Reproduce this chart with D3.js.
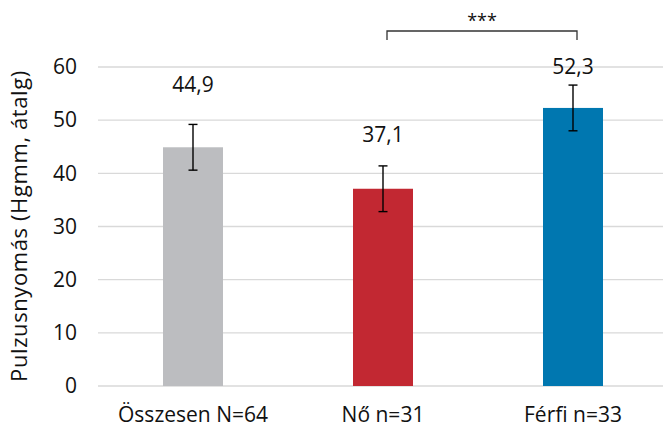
<!DOCTYPE html>
<html>
<head>
<meta charset="utf-8">
<script src="https://cdn.jsdelivr.net/npm/d3@7"></script>
<style>
  body { margin: 0; background: #fff; }
  text { font-family: "Open Sans", sans-serif; fill: #111; }
</style>
</head>
<body>
<script>
// data
var categories = ["Összesen N=64", "Nő n=31", "Férfi n=33"];
var means = [44.9, 37.1, 52.3];
var errors = [4.3, 4.3, 4.3];
var labels = ["44,9", "37,1", "52,3"];
var labelAt = [55.3, 45.9, 58.7];   // where Excel left the value labels (axis units)
var colors = ["#bcbdc0", "#c22832", "#0077b0"];
var yTicks = [0, 10, 20, 30, 40, 50, 60];
var yTitle = "Pulzusnyomás (Hgmm, átalg)";
var sigText = "***";
var sigPair = [1, 2];

var width = 663, height = 427;

var svg = d3.select("body")
  .append("svg")
    .attr("width", width)
    .attr("height", height);

// set the ranges
var x = d3.scaleBand().domain(categories).range([98, 668]).padding(0);
var y = d3.scaleLinear().domain([0, 60]).range([386, 67]);
var barW = 60;

// gridlines
svg.append("g")
  .selectAll("line")
  .data(yTicks)
  .enter().append("line")
    .attr("x1", 98).attr("x2", width)
    .attr("y1", function(d) { return y(d); })
    .attr("y2", function(d) { return y(d); })
    .style("stroke", "#d9d9d9")
    .style("stroke-width", 1.3);

// y axis labels
var yAxis = svg.append("g")
    .attr("transform", "translate(98,0)")
    .call(d3.axisLeft(y).tickValues(yTicks).tickSize(0).tickPadding(21));
yAxis.select(".domain").remove();
yAxis.selectAll("text")
    .style("font-family", "Open Sans, sans-serif")
    .style("font-size", "21px")
    .attr("fill", "#111");

// x axis labels
var xAxis = svg.append("g")
    .attr("transform", "translate(0,386)")
    .call(d3.axisBottom(x).tickSize(0).tickPadding(21));
xAxis.select(".domain").remove();
xAxis.selectAll("text")
    .style("font-family", "Open Sans, sans-serif")
    .style("font-size", "21px")
    .attr("fill", "#111");

// bars
svg.append("g")
  .selectAll("rect")
  .data(means)
  .enter().append("rect")
    .attr("x", function(d, i) { return x(categories[i]) + (x.bandwidth() - barW) / 2; })
    .attr("width", barW)
    .attr("y", function(d) { return y(d); })
    .attr("height", function(d) { return y(0) - y(d); })
    .style("fill", function(d, i) { return colors[i]; });

// error bars
var cx = function(i) { return x(categories[i]) + x.bandwidth() / 2; };
var eb = svg.append("g")
    .style("stroke", "#000")
    .style("stroke-width", 1.4)
    .style("fill", "none");
means.forEach(function(m, i) {
  var top = y(m + errors[i]), bot = y(m - errors[i]);
  eb.append("line").attr("x1", cx(i)).attr("x2", cx(i)).attr("y1", top).attr("y2", bot);
  eb.append("line").attr("x1", cx(i) - 4.5).attr("x2", cx(i) + 4.5).attr("y1", top).attr("y2", top);
  eb.append("line").attr("x1", cx(i) - 4.5).attr("x2", cx(i) + 4.5).attr("y1", bot).attr("y2", bot);
});

// value labels
svg.append("g")
  .selectAll("text")
  .data(labels)
  .enter().append("text")
    .attr("x", function(d, i) { return cx(i); })
    .attr("y", function(d, i) { return y(labelAt[i]); })
    .attr("text-anchor", "middle")
    .style("font-size", "21px")
    .text(function(d) { return d; });

// significance bracket
var bx1 = cx(sigPair[0]) + 4, bx2 = cx(sigPair[1]) + 4;
svg.append("path")
    .attr("d", "M" + bx1 + ",40V31H" + bx2 + "V40")
    .style("fill", "none")
    .style("stroke", "#333")
    .style("stroke-width", 1.3);
svg.append("text")
    .attr("x", (bx1 + bx2) / 2)
    .attr("y", 27)
    .attr("text-anchor", "middle")
    .style("font-size", "18px")
    .text(sigText);

// y title
svg.append("text")
    .attr("transform", "translate(27,226) rotate(-90)")
    .attr("text-anchor", "middle")
    .style("font-size", "22px")
    .style("letter-spacing", "0.6px")
    .text(yTitle);
</script>
</body>
</html>
